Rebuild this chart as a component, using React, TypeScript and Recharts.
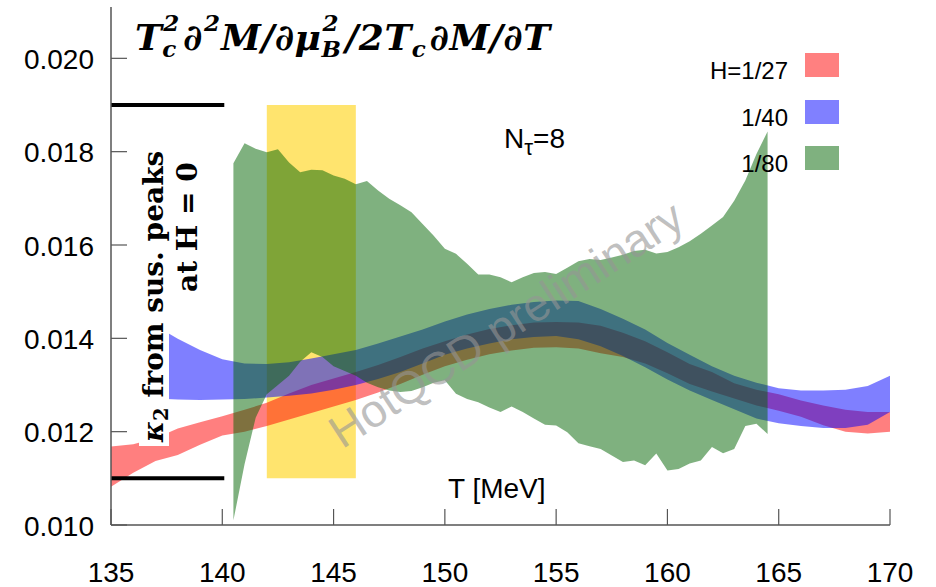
import React from "react";
import { ComposedChart, Area, Line, XAxis, YAxis } from "recharts";

// H = 1/27
const redT = [135, 136, 137, 138, 139, 140, 141, 142, 143, 144, 145, 146, 147, 148, 149, 150, 151, 152, 153, 154, 155, 156, 157, 158, 159, 160, 161, 162, 163, 164, 165, 166, 167, 168, 169, 170];
const redLo = [0.01082, 0.01112, 0.01137, 0.0115, 0.01172, 0.01192, 0.012, 0.01212, 0.01226, 0.0124, 0.01254, 0.01268, 0.01284, 0.01302, 0.01322, 0.0134, 0.01354, 0.01366, 0.01374, 0.0138, 0.01381, 0.01378, 0.01368, 0.0136, 0.01346, 0.01325, 0.01302, 0.01286, 0.01271, 0.01256, 0.01245, 0.01232, 0.01214, 0.012, 0.01196, 0.012];
const redHi = [0.01168, 0.01173, 0.01186, 0.01207, 0.0122, 0.01233, 0.01247, 0.01262, 0.01282, 0.013, 0.01314, 0.01328, 0.01343, 0.0136, 0.01378, 0.01394, 0.01408, 0.0142, 0.01428, 0.01434, 0.01435, 0.01434, 0.01427, 0.01412, 0.01394, 0.0137, 0.01345, 0.01328, 0.01304, 0.0129, 0.0128, 0.01267, 0.01256, 0.01247, 0.01242, 0.01242];

// H = 1/40
const blueT = [137.5, 138, 139, 140, 141, 142, 143, 144, 145, 146, 147, 148, 149, 150, 151, 152, 153, 154, 155, 156, 157, 158, 159, 160, 161, 162, 163, 164, 165, 166, 167, 168, 169, 170];
const blueLo = [0.0127, 0.01269, 0.01268, 0.01269, 0.0127, 0.01273, 0.01277, 0.01282, 0.0129, 0.013, 0.01313, 0.01328, 0.01346, 0.01365, 0.01378, 0.01389, 0.01398, 0.01403, 0.01405, 0.01398, 0.01383, 0.01362, 0.01338, 0.01312, 0.01288, 0.01268, 0.01248, 0.01228, 0.01218, 0.01212, 0.01208, 0.01208, 0.01215, 0.01242];
const blueHi = [0.01413, 0.01399, 0.01375, 0.01355, 0.01346, 0.01345, 0.01349, 0.01357, 0.01366, 0.01375, 0.01389, 0.01404, 0.01419, 0.01436, 0.01451, 0.01463, 0.01472, 0.01478, 0.01481, 0.0148, 0.01463, 0.01442, 0.01419, 0.0139, 0.01365, 0.0134, 0.0132, 0.01305, 0.01293, 0.01288, 0.01288, 0.0129, 0.01298, 0.0132];

// H = 1/80
const greenT = [140.5, 141, 141.5, 142, 142.5, 143, 143.5, 144, 144.5, 145, 145.5, 146, 146.5, 147, 147.5, 148, 148.5, 149, 149.5, 150, 150.5, 151, 151.5, 152, 152.5, 153, 153.5, 154, 154.5, 155, 155.5, 156, 156.5, 157, 157.5, 158, 158.5, 159, 159.5, 160, 160.5, 161, 161.5, 162, 162.5, 163, 163.5, 164, 164.5];
const greenLo = [0.0101, 0.0113, 0.0123, 0.0128, 0.013, 0.0132, 0.0135, 0.0137, 0.0136, 0.0134, 0.0133, 0.0132, 0.01305, 0.01295, 0.01288, 0.01285, 0.01287, 0.01295, 0.01305, 0.0131, 0.01281, 0.0127, 0.01263, 0.01252, 0.01242, 0.01254, 0.01242, 0.01228, 0.01215, 0.01213, 0.01199, 0.01175, 0.01169, 0.01163, 0.01149, 0.01135, 0.01138, 0.01128, 0.01153, 0.01117, 0.0112, 0.01132, 0.01138, 0.01167, 0.01154, 0.01163, 0.01212, 0.01217, 0.01195];
const greenHi = [0.01775, 0.01818, 0.01806, 0.01799, 0.01805, 0.01777, 0.01756, 0.01761, 0.0176, 0.01749, 0.01742, 0.0173, 0.01737, 0.01717, 0.01699, 0.01685, 0.0167, 0.01645, 0.0162, 0.01592, 0.01581, 0.0156, 0.01537, 0.01537, 0.01531, 0.0152, 0.01531, 0.0154, 0.01542, 0.01538, 0.01551, 0.01565, 0.0157, 0.01568, 0.01573, 0.01579, 0.01587, 0.0159, 0.01582, 0.01585, 0.01595, 0.01608, 0.01624, 0.01642, 0.0166, 0.01695, 0.01738, 0.01795, 0.01843];

// yellow T_c window and kappa_2 bars
const yellowT = [142, 146];
const yellowLo = [0.011, 0.011];
const yellowHi = [0.019, 0.019];
const kappaT = [135, 140];
const kappaUpper = [0.019, 0.019];
const kappaLower = [0.011, 0.011];

const xTicks = [135, 140, 145, 150, 155, 160, 165, 170];
const yTicks = [0.01, 0.012, 0.014, 0.016, 0.018, 0.02];

const legendItems = [
  { label: "H=1/27", color: "#ff8080", top: 53 },
  { label: "1/40", color: "#8080ff", top: 100 },
  { label: "1/80", color: "#7fb17f", top: 146 },
];

const band = (t: number[], lo: number[], hi: number[]) =>
  t.map((T, i) => ({ T, band: [lo[i], hi[i]] }));
const line = (t: number[], v: number[]) => t.map((T, i) => ({ T, v: v[i] }));

const FRAME = "#555";
const TICK_FONT = "'Liberation Sans', Arial, sans-serif";

const BottomTick = ({ x, y, payload }: any) => (
  <g>
    <line x1={x} x2={x} y1={y} y2={y - 16} stroke={FRAME} strokeWidth={1.2} />
    <text x={x} y={y + 57} textAnchor="middle" fontSize={28} fontFamily={TICK_FONT} fill="#000">
      {payload.value}
    </text>
  </g>
);

const TopTick = ({ x, y }: any) => (
  <line x1={x} x2={x} y1={y} y2={y + 16} stroke={FRAME} strokeWidth={1.2} />
);

const LeftTick = ({ x, y, payload }: any) => (
  <g>
    <line x1={x} x2={x + 16} y1={y} y2={y} stroke={FRAME} strokeWidth={1.2} />
    <text x={x - 17} y={y} dy="0.38em" textAnchor="end" fontSize={28} fontFamily={TICK_FONT} fill="#000">
      {payload.value.toFixed(3)}
    </text>
  </g>
);

const RightTick = ({ x, y }: any) => (
  <line x1={x} x2={x - 16} y1={y} y2={y} stroke={FRAME} strokeWidth={1.2} />
);

// stacked super/subscript for the title
const Stack = ({ sup, sub, w = 0.5 }: { sup?: string; sub?: string; w?: number }) => (
  <span
    style={{
      display: "inline-block",
      position: "relative",
      width: `${w}em`,
      height: "1em",
      marginRight: "0.08em",
    }}
  >
    {sup && (
      <span style={{ position: "absolute", left: 1, top: -3, fontSize: "0.64em", lineHeight: 1 }}>{sup}</span>
    )}
    {sub && (
      <span style={{ position: "absolute", left: 0, top: 23, fontSize: "0.64em", lineHeight: 1 }}>{sub}</span>
    )}
  </span>
);

export default function App() {
  return (
    <div style={{ position: "absolute", left: 0, top: 0, width: 936, height: 587, background: "#fff" }}>
      <ComposedChart width={936} height={587} margin={{ top: 7, right: 46, bottom: 0, left: 0 }}>
        <XAxis
          dataKey="T"
          type="number"
          domain={[135, 170]}
          ticks={xTicks}
          allowDataOverflow
          height={62}
          tickLine={false}
          tickSize={0}
          tickMargin={0}
          axisLine={{ stroke: FRAME, strokeWidth: 1.5 }}
          tick={<BottomTick />}
        />
        <XAxis
          xAxisId="top"
          orientation="top"
          dataKey="T"
          type="number"
          domain={[135, 170]}
          ticks={xTicks.slice(1, -1)}
          allowDataOverflow
          height={0}
          tickLine={false}
          tickSize={0}
          tickMargin={0}
          axisLine={{ stroke: FRAME, strokeWidth: 1.5 }}
          tick={<TopTick />}
        />
        <YAxis
          type="number"
          domain={[0.01, 0.0211]}
          ticks={yTicks}
          allowDataOverflow
          width={111}
          tickLine={false}
          tickSize={0}
          tickMargin={0}
          axisLine={{ stroke: FRAME, strokeWidth: 1.5 }}
          tick={<LeftTick />}
        />
        <YAxis
          yAxisId="right"
          orientation="right"
          type="number"
          domain={[0.01, 0.0211]}
          ticks={yTicks.slice(1)}
          allowDataOverflow
          width={0}
          tickLine={false}
          tickSize={0}
          tickMargin={0}
          axisLine={{ stroke: FRAME, strokeWidth: 1.5 }}
          tick={<RightTick />}
        />

        <Area data={band(yellowT, yellowLo, yellowHi)} dataKey="band" type="linear" stroke="none" fill="#ffe46e" fillOpacity={1} isAnimationActive={false} />
        <Area data={band(redT, redLo, redHi)} dataKey="band" type="linear" stroke="none" fill="#ff0000" fillOpacity={0.5} isAnimationActive={false} />
        <Area data={band(blueT, blueLo, blueHi)} dataKey="band" type="linear" stroke="none" fill="#0000ff" fillOpacity={0.5} isAnimationActive={false} />
        <Area data={band(greenT, greenLo, greenHi)} dataKey="band" type="linear" stroke="none" fill="#006400" fillOpacity={0.5} isAnimationActive={false} />

        <Line data={line(kappaT, kappaUpper)} dataKey="v" stroke="#000" strokeWidth={4} strokeLinecap="square" dot={false} isAnimationActive={false} />
        <Line data={line(kappaT, kappaLower)} dataKey="v" stroke="#000" strokeWidth={4} strokeLinecap="square" dot={false} isAnimationActive={false} />
      </ComposedChart>

      {/* watermark */}
      <div
        style={{
          position: "absolute",
          left: 506,
          top: 324,
          transform: "translate(-50%, -50%) rotate(-33deg)",
          fontFamily: TICK_FONT,
          fontSize: 46,
          color: "rgba(150,150,150,0.6)",
          whiteSpace: "nowrap",
        }}
      >
        HotQCD preliminary
      </div>

      {/* title */}
      <div
        style={{
          position: "absolute",
          left: 135,
          top: 14,
          fontFamily: "'DejaVu Serif', serif",
          fontWeight: "bold",
          fontStyle: "italic",
          fontSize: 36,
          whiteSpace: "nowrap",
          lineHeight: "40px",
          letterSpacing: "0.5px",
        }}
      >
        T<Stack sup="2" sub="c" />∂<Stack sup="2" w={0.42} />M/∂μ<Stack sup="2" sub="B" w={0.58} />/2T<Stack sub="c" w={0.42} />∂M/∂T
      </div>

      {/* kappa_2 label */}
      <div
        style={{
          position: "absolute",
          left: 139,
          top: 446,
          height: 30,
          transform: "rotate(-90deg)",
          transformOrigin: "left top",
          fontFamily: "'DejaVu Serif', serif",
          fontWeight: "bold",
          fontSize: 28,
          lineHeight: "30px",
          background: "#fff",
          whiteSpace: "nowrap",
          padding: "0 4px",
          overflow: "visible",
        }}
      >
        <i>κ</i>
        <span style={{ fontSize: "0.7em", position: "relative", top: "0.25em" }}>2</span> from sus. peaks
      </div>
      <div
        style={{
          position: "absolute",
          left: 172,
          top: 292,
          transform: "rotate(-90deg)",
          transformOrigin: "left top",
          fontFamily: "'DejaVu Serif', serif",
          fontWeight: "bold",
          fontSize: 28,
          lineHeight: "31px",
          whiteSpace: "nowrap",
        }}
      >
        at H = 0
      </div>

      {/* N_tau */}
      <div style={{ position: "absolute", left: 504, top: 123, fontFamily: TICK_FONT, fontSize: 28, lineHeight: "32px" }}>
        N<span style={{ fontSize: "0.8em", position: "relative", top: "0.3em" }}>τ</span>=8
      </div>

      {/* x label */}
      <div style={{ position: "absolute", left: 448, top: 473, fontFamily: TICK_FONT, fontSize: 28, lineHeight: "32px" }}>
        T [MeV]
      </div>

      {/* legend */}
      {legendItems.map((it) => (
        <React.Fragment key={it.label}>
          <div
            style={{
              position: "absolute",
              right: 936 - 788,
              top: it.top + 4,
              fontFamily: TICK_FONT,
              fontSize: 24,
              lineHeight: "28px",
              textAlign: "right",
            }}
          >
            {it.label}
          </div>
          <div style={{ position: "absolute", left: 805, top: it.top, width: 34, height: 24, background: it.color }} />
        </React.Fragment>
      ))}
    </div>
  );
}
